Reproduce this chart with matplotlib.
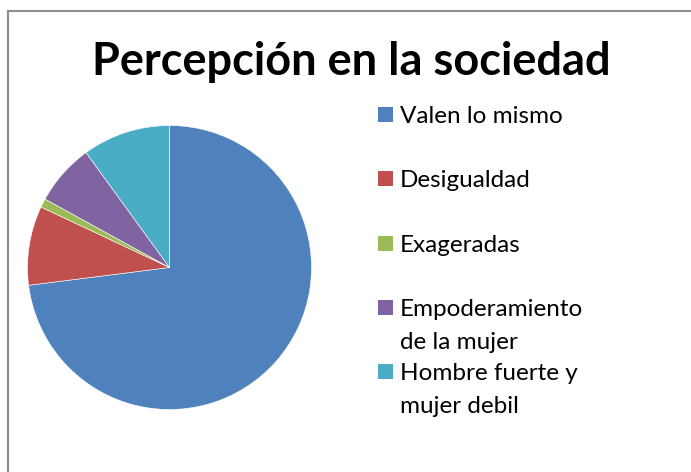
import matplotlib.pyplot as plt
from matplotlib.patches import Rectangle
from matplotlib.lines import Line2D

labels = ["Valen lo mismo", "Desigualdad", "Exageradas",
          "Empoderamiento\nde la mujer", "Hombre fuerte y\nmujer debil"]
values = [73, 9, 1, 7, 10]
colors = ["#4F81BD", "#C0504D", "#9BBB59", "#8064A2", "#4BACC6"]

plt.rcParams["font.family"] = ["Lato", "DejaVu Sans"]

W, H = 691, 472
fig = plt.figure(figsize=(W / 100, H / 100), dpi=100)

# chart border (only left and top visible)
fig.add_artist(Line2D([7.5 / W, 7.5 / W], [0, 1 - 10.5 / H], color="#8c8c8c", lw=1.5))
fig.add_artist(Line2D([7.5 / W, 1], [1 - 10.5 / H, 1 - 10.5 / H], color="#8c8c8c", lw=1.5))

fig.text(351 / W, 1 - 62 / H, "Percepción en la sociedad", ha="center", va="center",
         fontsize=32.5, fontweight="bold")

cx, cy, r = 169.5, 267.5, 142
ax = fig.add_axes([(cx - r) / W, (H - cy - r) / H, 2 * r / W, 2 * r / H])
ax.pie(values, colors=colors, startangle=90, counterclock=False, radius=1,
       wedgeprops=dict(edgecolor="white", linewidth=0.4))
ax.set_xlim(-1, 1)
ax.set_ylim(-1, 1)
ax.set_aspect("equal")
ax.axis("off")

# legend (baseline of first line of each entry, in pixels from top)
for i, (lab, col) in enumerate(zip(labels, colors)):
    base = 123 + 64.3 * i
    fig.add_artist(Rectangle((378 / W, 1 - (base - 1) / H), 15 / W, 15 / H,
                             facecolor=col, edgecolor="none"))
    for j, line in enumerate(lab.split("\n")):
        fig.text(400 / W, 1 - (base + 33 * j) / H, line, ha="left", va="baseline",
                 fontsize=17.5)

fig.savefig("out.png", dpi=100)
